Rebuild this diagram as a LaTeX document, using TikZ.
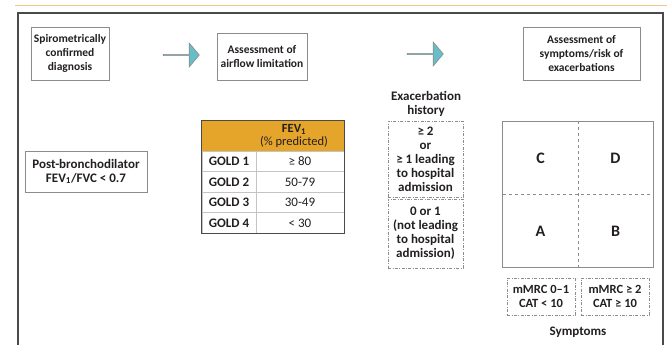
\documentclass[tikz,border=0pt]{standalone}
\usepackage{fontspec}
\setmainfont{Carlito}
\usetikzlibrary{shapes.arrows}

\definecolor{frameline}{HTML}{4A4A4A}
\definecolor{boxline}{HTML}{8C8C8C}
\definecolor{cellline}{HTML}{C4C4C4}
\definecolor{arrowfill}{HTML}{67BEC7}
\definecolor{headfill}{HTML}{E5A52B}
\definecolor{topline}{HTML}{F1C58A}
\definecolor{ink}{HTML}{231F20}

\tikzset{
	stagebox/.style={draw=boxline, line width=0.8pt, align=center, font=\fontsize{11.5}{14}\selectfont\bfseries, inner sep=0pt},
	critbox/.style={stagebox, font=\fontsize{13}{14}\selectfont\bfseries},
	dotbox/.style={draw=boxline, line width=0.7pt, dash pattern=on 3pt off 1.5pt on 0.8pt off 1.5pt, align=center, font=\fontsize{13}{14}\selectfont\bfseries, inner sep=0pt},
	flowarrow/.style={single arrow, draw=boxline, fill=arrowfill, line width=0.6pt, minimum height=36pt, minimum width=24pt, single arrow head extend=5pt, single arrow tip angle=100, inner sep=0pt},
	goldcell/.style={draw=cellline, line width=0.6pt, minimum width=54pt, minimum height=20.5pt, inner sep=0pt, font=\fontsize{13}{14}\selectfont\bfseries},
	valcell/.style={draw=cellline, line width=0.6pt, minimum width=88pt, minimum height=20.5pt, inner sep=0pt, font=\fontsize{13}{14}\selectfont},
	quad/.style={minimum width=75pt, minimum height=73pt, inner sep=0pt, font=\fontsize{16}{18}\selectfont\bfseries},
	plainlabel/.style={align=center, font=\fontsize{13}{13.5}\selectfont\bfseries}
}

\begin{document}
\begin{tikzpicture}[x=1pt, y=-1pt, text=ink]
	\useasboundingbox (0, 0) rectangle (667, 345);

	% Page rule and frame
	\draw[topline, line width=0.8pt] (15, 5) -- (667, 5);
	\draw[frameline, line width=1.3pt] (18, 345) -- (18, 13) -- (663, 13) -- (663, 345);

	% Stages
	\node[stagebox, minimum width=78pt, minimum height=53pt] (diagnosis) at (70, 53.5) {Spirometrically\\confirmed\\diagnosis};
	\node[stagebox, minimum width=90pt, minimum height=47pt] (airflow) at (262, 56.5) {Assessment of\\airflow limitation};
	\node[stagebox, minimum width=117pt, minimum height=53pt] (symrisk) at (581.5, 53.5) {Assessment of\\symptoms/risk of\\exacerbations};

	% Stage arrows
	\node[flowarrow] (arrowone) at (181, 55) {};
	\node[flowarrow] (arrowtwo) at (425, 54) {};

	% Spirometry criterion
	\node[critbox, minimum width=122pt, minimum height=41pt] (postbd) at (86, 171.5) {Post-bronchodilator\\FEV\textsubscript{1}/FVC < 0.7};

	% FEV1 table
	\node[fill=headfill, minimum width=142pt, minimum height=30pt, inner sep=0pt] (fevhead) at (273, 136) {};
	\node[align=center, font=\fontsize{12.5}{13.5}\selectfont] (fevtext) at (294, 136) {\textbf{FEV\textsubscript{1}}\\(\% predicted)};
	\foreach \g/\v [count=\i] in {1/{≥ 80}, 2/{50-79}, 3/{30-49}, 4/{< 30}} {
		\node[goldcell] (gold\i) at (229, 141 + \i*20.5) {GOLD \g};
		\node[valcell] (val\i) at (300, 141 + \i*20.5) {\v};
	}
	\draw[frameline, line width=0.9pt] (fevhead.north west) rectangle (val4.south east);

	% Exacerbation history
	\node[plainlabel] (exachist) at (426, 104) {Exacerbation\\history};
	\node[dotbox, minimum width=75pt, minimum height=76pt] (exachigh) at (425.5, 159) {≥ 2\\or\\≥ 1 leading\\to hospital\\admission};
	\node[dotbox, minimum width=75pt, minimum height=69pt] (exaclow) at (425.5, 233.5) {0 or 1\\(not leading\\to hospital\\admission)};

	% Groups
	\node[quad] (quadC) at (540.5, 158) {C};
	\node[quad] (quadD) at (615.5, 158) {D};
	\node[quad] (quadA) at (540.5, 231) {A};
	\node[quad] (quadB) at (615.5, 231) {B};
	\draw[boxline, line width=0.9pt] (quadC.north west) rectangle (quadB.south east);
	\draw[boxline, line width=0.7pt, dashed] (quadC.north east) -- (quadA.south east);
	\draw[boxline, line width=0.7pt, dashed] (quadC.south west) -- (quadD.south east);

	% Symptoms
	\node[dotbox, minimum width=68pt, minimum height=37pt, font=\fontsize{12.5}{14}\selectfont\bfseries] (symlow) at (541, 296.5) {mMRC 0–1\\CAT < 10};
	\node[dotbox, minimum width=68pt, minimum height=37pt, font=\fontsize{12.5}{14}\selectfont\bfseries] (symhigh) at (615, 296.5) {mMRC ≥ 2\\CAT ≥ 10};
	\node[plainlabel] (symptoms) at (578, 332) {Symptoms};
\end{tikzpicture}
\end{document}
